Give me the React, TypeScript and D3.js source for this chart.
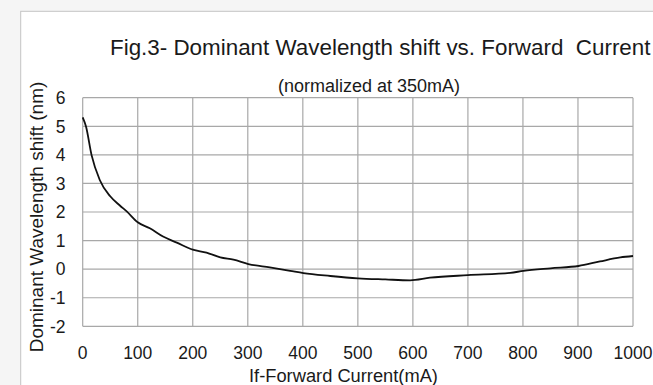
import React from 'react';
import * as d3 from 'd3';

// If-Forward Current (mA) vs dominant wavelength shift (nm)
const current = [0, 6, 16, 31, 50, 68, 80, 100, 122, 146, 171, 200, 225, 250, 274, 301, 340, 377, 401, 450, 500, 550, 595, 631, 700, 777, 801, 850, 901, 940, 977, 1000];
const shift = [5.31, 4.99, 4.0, 3.12, 2.55, 2.22, 2.02, 1.64, 1.43, 1.14, 0.93, 0.68, 0.58, 0.41, 0.33, 0.18, 0.06, -0.06, -0.14, -0.24, -0.32, -0.36, -0.39, -0.3, -0.21, -0.13, -0.06, 0.03, 0.11, 0.27, 0.41, 0.46];

const xTicks = [0, 100, 200, 300, 400, 500, 600, 700, 800, 900, 1000];
const yTicks = [-2, -1, 0, 1, 2, 3, 4, 5, 6];

const title = 'Fig.3- Dominant Wavelength shift vs. Forward\u00a0 Current';
const subtitle = '(normalized at 350mA)';
const xTitle = 'If-Forward Current(mA)';
const yTitle = 'Dominant Wavelength shift (nm)';

export default function App() {
  const width = 653;
  const height = 385;
  const plot = { left: 82.7, right: 633, top: 97.7, bottom: 326.3 };

  const x = d3.scaleLinear().domain([0, 1000]).range([plot.left, plot.right]);
  const y = d3.scaleLinear().domain([-2, 6]).range([plot.bottom, plot.top]);

  const data = current.map((c, i) => ({ c, s: shift[i] }));
  const line = d3.line<{ c: number; s: number }>()
    .x(d => x(d.c))
    .y(d => y(d.s))
    .curve(d3.curveMonotoneX);

  const font = '"Liberation Sans", Arial, sans-serif';
  const grid = '#a8a8a8';

  return (
    <svg width={width} height={height} style={{ position: 'absolute', left: 0, top: 0 }} fontFamily={font}>
      <rect x={0} y={0} width={width} height={height} fill="#f5f5f5" />
      <rect x={20.7} y={11.3} width={width} height={height} fill="#ffffff" stroke="#c4c4c4" strokeWidth={1} />

      <text x={110} y={55} fontSize={22.4} fill="#1a1a1a">{title}</text>
      <text x={369} y={91.5} fontSize={18} fill="#1a1a1a" textAnchor="middle">{subtitle}</text>

      {xTicks.map(t => (
        <line key={'gx' + t} x1={x(t)} x2={x(t)} y1={plot.top} y2={plot.bottom} stroke={grid} strokeWidth={1.2} />
      ))}
      {yTicks.map(t => (
        <line key={'gy' + t} x1={plot.left} x2={plot.right} y1={y(t)} y2={y(t)} stroke={grid} strokeWidth={1.2} />
      ))}

      <path d={line(data) || ''} fill="none" stroke="#111" strokeWidth={1.8} strokeLinejoin="round" />

      {yTicks.map(t => (
        <text key={'ty' + t} x={65.5} y={y(t)} dy="0.36em" fontSize={17.5} fill="#1a1a1a" textAnchor="end">{t}</text>
      ))}
      {xTicks.map(t => (
        <text key={'tx' + t} x={x(t)} y={359.3} fontSize={17.5} fill="#1a1a1a" textAnchor="middle">{t}</text>
      ))}

      <text x={343.5} y={381.7} fontSize={18.3} fill="#1a1a1a" textAnchor="middle">{xTitle}</text>
      <text transform={`translate(43,217) rotate(-90)`} fontSize={19} fill="#1a1a1a" textAnchor="middle">{yTitle}</text>
    </svg>
  );
}
